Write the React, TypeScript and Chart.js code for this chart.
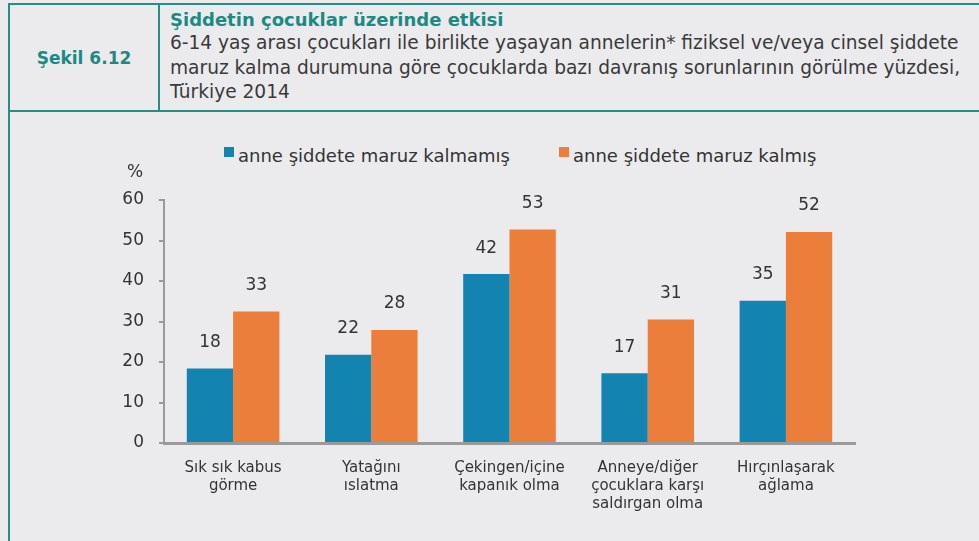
import React, { useEffect, useRef } from "react";
import { Chart, registerables } from "chart.js";

Chart.register(...registerables);

const categories: string[][] = [
  ["Sık sık kabus", "görme"],
  ["Yatağını", "ıslatma"],
  ["Çekingen/içine", "kapanık olma"],
  ["Anneye/diğer", "çocuklara karşı", "saldırgan olma"],
  ["Hırçınlaşarak", "ağlama"],
];
const seriesNames = ["anne şiddete maruz kalmamış", "anne şiddete maruz kalmış"];
const notExposed = [18.4, 21.8, 41.7, 17.2, 35.1];
const exposed = [32.5, 27.9, 52.7, 30.5, 52.1];
const seriesColors = ["#1383B0", "#EB7E3A"];
const yTicks = [0, 10, 20, 30, 40, 50, 60];

const FONT = "'DejaVu Sans', sans-serif";
const TEAL = "#2A8C87";
const TEAL_TEXT = "#1B8A83";
const TEXT = "#333333";
const BG = "#EBEBED";

const valueLabels = {
  id: "valueLabels",
  afterDatasetsDraw(chart: any) {
    const ctx = chart.ctx;
    ctx.save();
    ctx.font = `17px ${FONT}`;
    ctx.fillStyle = TEXT;
    ctx.textAlign = "center";
    ctx.textBaseline = "middle";
    chart.data.datasets.forEach((ds: any, di: number) => {
      const meta = chart.getDatasetMeta(di);
      meta.data.forEach((bar: any, i: number) => {
        ctx.fillText(String(Math.round(ds.data[i])), bar.x, bar.y - 26);
      });
    });
    const ys = chart.scales.y;
    ctx.fillText("%", chart.chartArea.left - 29, ys.top - 27);
    ctx.restore();
  },
};

export default function App() {
  const ref = useRef<HTMLCanvasElement>(null);
  useEffect(() => {
    if (!ref.current) return;
    const chart = new Chart(ref.current, {
      type: "bar",
      data: {
        labels: categories,
        datasets: [
          { label: seriesNames[0], data: notExposed, backgroundColor: seriesColors[0] },
          { label: seriesNames[1], data: exposed, backgroundColor: seriesColors[1] },
        ],
      },
      options: {
        animation: false,
        responsive: false,
        maintainAspectRatio: false,
        layout: { padding: { left: 94, right: 124, top: 86, bottom: 0 } },
        plugins: { legend: { display: false }, tooltip: { enabled: false } },
        datasets: { bar: { barPercentage: 1, categoryPercentage: 0.67 } },
        scales: {
          x: {
            grid: { display: false, drawTicks: false },
            border: { display: true, color: "#9A9A9A", width: 3 },
            ticks: {
              color: TEXT,
              font: { family: FONT, size: 15, lineHeight: 1.2 },
              padding: 16,
              maxRotation: 0,
              autoSkip: false,
            },
            afterFit: (s: any) => {
              s.height = 98;
            },
          },
          y: {
            min: 0,
            max: 60,
            afterBuildTicks: (s: any) => {
              s.ticks = yTicks.map((v) => ({ value: v }));
            },
            grid: {
              display: true,
              drawOnChartArea: false,
              drawTicks: true,
              tickLength: 5,
              color: "#9A9A9A",
              lineWidth: 2,
            },
            border: { display: true, color: "#9A9A9A", width: 2 },
            ticks: {
              color: TEXT,
              font: { family: FONT, size: 17 },
              padding: 15,
            },
            afterFit: (s: any) => {
              s.width = 60;
            },
          },
        },
      },
      plugins: [valueLabels],
    });
    return () => chart.destroy();
  }, []);

  return (
    <div
      style={{
        position: "fixed",
        left: 0,
        top: 0,
        width: 979,
        height: 541,
        background: BG,
        overflow: "hidden",
        fontFamily: FONT,
        color: TEXT,
      }}
    >
      <div
        style={{
          position: "absolute",
          left: 8,
          top: 3,
          width: 1000,
          height: 600,
          borderLeft: `2px solid ${TEAL}`,
          borderTop: `2px solid ${TEAL}`,
          boxSizing: "border-box",
        }}
      />
      <div
        style={{
          position: "absolute",
          left: 8,
          top: 110,
          width: 1000,
          height: 2,
          background: TEAL,
        }}
      />
      <div
        style={{
          position: "absolute",
          left: 158,
          top: 3,
          width: 2,
          height: 108,
          background: TEAL,
        }}
      />
      <div
        style={{
          position: "absolute",
          left: 10,
          top: 5,
          width: 148,
          height: 105,
          display: "flex",
          alignItems: "center",
          justifyContent: "center",
          color: TEAL_TEXT,
          fontWeight: "bold",
          fontSize: 17,
        }}
      >
        Şekil 6.12
      </div>
      <div
        style={{
          position: "absolute",
          left: 170,
          top: 8,
          whiteSpace: "nowrap",
          color: TEAL_TEXT,
          fontWeight: "bold",
          fontSize: 18,
          lineHeight: "24px",
        }}
      >
        Şiddetin çocuklar üzerinde etkisi
      </div>
      <div
        style={{
          position: "absolute",
          left: 170,
          top: 31,
          whiteSpace: "nowrap",
          color: "#3A3A3A",
          fontSize: 18.6,
          lineHeight: "24.5px",
        }}
      >
        6-14 yaş arası çocukları ile birlikte yaşayan annelerin* fiziksel ve/veya cinsel şiddete
        <br />
        maruz kalma durumuna göre çocuklarda bazı davranış sorunlarının görülme yüzdesi,
        <br />
        Türkiye 2014
      </div>
      {[0, 1].map((i) => (
        <div
          key={i}
          style={{
            position: "absolute",
            left: i === 0 ? 224 : 559,
            top: 143,
            height: 24,
            display: "flex",
            alignItems: "center",
            whiteSpace: "nowrap",
            fontSize: 18,
            color: TEXT,
          }}
        >
          <span
            style={{
              display: "inline-block",
              width: 10,
              height: 10,
              background: seriesColors[i],
              marginRight: 4,
              marginTop: -6,
            }}
          />
          {seriesNames[i]}
        </div>
      ))}
      <canvas
        ref={ref}
        width={969}
        height={427}
        style={{ position: "absolute", left: 10, top: 114, width: 969, height: 427 }}
      />
    </div>
  );
}
